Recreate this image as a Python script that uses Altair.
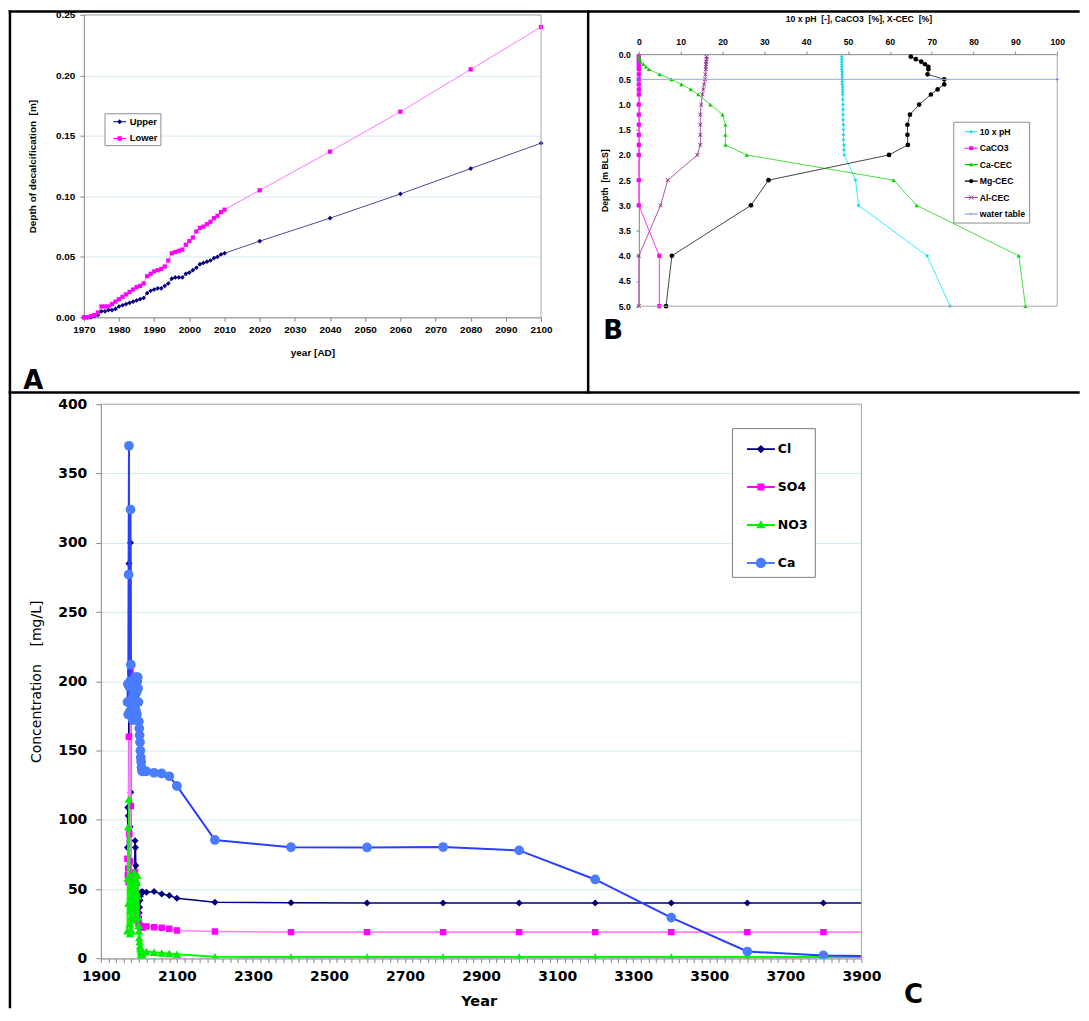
import altair as alt
import pandas as pd

# ======================= Panel A data =======================
A_YEARS = [1970, 1971, 1972, 1973, 1974, 1975, 1976, 1977, 1978, 1979,
           1980, 1981, 1982, 1983, 1984, 1985, 1986, 1987, 1988, 1989,
           1990, 1991, 1992, 1993, 1994, 1995, 1996, 1997, 1998, 1999,
           2000, 2001, 2002, 2003, 2004, 2005, 2006, 2007, 2008, 2009,
           2010, 2020, 2040, 2060, 2080, 2100]
A_UPPER = [0.000, 0.000, 0.000, 0.001, 0.002, 0.005, 0.005, 0.006, 0.006, 0.007,
           0.009, 0.010, 0.011, 0.012, 0.013, 0.014, 0.015, 0.016, 0.020, 0.022,
           0.023, 0.024, 0.024, 0.026, 0.028, 0.032, 0.033, 0.033, 0.033, 0.036,
           0.037, 0.039, 0.041, 0.044, 0.045, 0.046, 0.047, 0.049, 0.050, 0.052,
           0.053, 0.063, 0.082, 0.102, 0.123, 0.144]
A_LOWER = [0.000, 0.000, 0.001, 0.002, 0.004, 0.009, 0.009, 0.009, 0.011, 0.013,
           0.015, 0.017, 0.019, 0.021, 0.023, 0.025, 0.026, 0.028, 0.034, 0.036,
           0.038, 0.039, 0.040, 0.042, 0.047, 0.053, 0.054, 0.055, 0.056, 0.060,
           0.063, 0.066, 0.071, 0.074, 0.075, 0.077, 0.079, 0.082, 0.084, 0.087,
           0.089, 0.105, 0.137, 0.170, 0.205, 0.240]
A_SERIES = ["Upper", "Lower"]
A_X_TICKS = [1970, 1980, 1990, 2000, 2010, 2020, 2030, 2040, 2050, 2060, 2070, 2080, 2090, 2100]
A_Y_TICKS = [0.0, 0.05, 0.10, 0.15, 0.20, 0.25]

# ======================= Panel B data =======================
B_DEPTH = [0.05, 0.1, 0.15, 0.2, 0.25, 0.3, 0.4, 0.5, 0.6, 0.7, 0.8,
           1.0, 1.2, 1.4, 1.6, 1.8, 2.0, 2.5, 3.0, 4.0, 5.0]
B_PH_DEPTH = [0.05, 0.10, 0.15, 0.20, 0.25, 0.30, 0.35, 0.40, 0.45, 0.50, 0.55, 0.60,
              0.65, 0.70, 0.75, 0.80, 0.9, 1.0, 1.1, 1.2, 1.3, 1.4, 1.5, 1.6, 1.7,
              1.8, 1.9, 2.0, 2.5, 3.0, 4.0, 5.0]
B_PH10 = [48.5, 48.5, 48.5, 48.5, 48.5, 48.5, 48.6, 48.6, 48.6, 48.6, 48.6, 48.6,
          48.7, 48.7, 48.7, 48.7, 48.7, 48.8, 48.8, 48.8, 48.8, 48.9, 48.9, 48.9, 48.9,
          49.0, 49.0, 49.1, 51.8, 52.5, 68.9, 74.4]
B_CACO3 = [0.0, 0.0, 0.0, 0.0, 0.0, 0.0, 0.0, 0.0, 0.0, 0.0, 0.0,
           0.0, 0.0, 0.0, 0.0, 0.0, 0.0, 0.0, 0.0, 4.9, 4.9]
B_CA_CEC = [0.1, 0.2, 0.4, 1.1, 1.7, 2.4, 5.0, 7.8, 10.2, 12.4, 14.2,
            17.1, 20.0, 20.7, 20.7, 20.7, 25.8, 60.9, 66.4, 90.8, 92.4]
B_MG_CEC = [65.0, 66.2, 67.5, 68.4, 69.2, 69.2, 69.0, 73.0, 73.0, 71.4, 69.8,
            67.0, 64.8, 64.2, 64.2, 64.3, 59.8, 31.0, 26.8, 7.9, 6.5]
B_AL_CEC = [16.2, 16.2, 16.1, 16.1, 16.0, 16.0, 15.9, 15.8, 15.6, 15.4, 15.2,
            14.9, 14.7, 14.7, 14.7, 14.7, 14.0, 6.9, 5.2, 0.0, 0.0]
B_WT_X = [0, 100]
B_WT_DEPTH = [0.5, 0.5]
B_SERIES = ["10 x pH", "CaCO3", "Ca-CEC", "Mg-CEC", "Al-CEC", "water table"]
B_X_TICKS = [0, 10, 20, 30, 40, 50, 60, 70, 80, 90, 100]
B_Y_TICKS = [0.0, 0.5, 1.0, 1.5, 2.0, 2.5, 3.0, 3.5, 4.0, 4.5, 5.0]

# ======================= Panel C data =======================
C_YEARS = [1970, 1971, 1972, 1973, 1974, 1975, 1976, 1977, 1978, 1979,
           1980, 1981, 1982, 1983, 1984, 1985, 1986, 1987, 1988, 1989,
           1990, 1991, 1992, 1993, 1994, 1995, 1996, 1997, 1998, 1999,
           2000, 2001, 2002, 2003, 2004, 2005, 2006, 2007, 2008, 2009,
           2010, 2020, 2040, 2060, 2080, 2100, 2200, 2400, 2600, 2800,
           3000, 3200, 3400, 3600, 3800, 4000]
C_CL = [80, 109, 103, 60, 285, 110, 70, 95, 300, 120,
        50, 40, 35, 45, 30, 40, 50, 35, 45, 60,
        85, 80, 67, 55, 45, 38, 33, 30, 28, 27,
        30, 33, 37, 42, 45, 47, 47.5, 48, 48, 48,
        48, 47.8, 48.3, 46.5, 45.5, 43.5, 40.6, 40.2, 40.0, 40.0,
        40.0, 40.0, 40.0, 40.0, 40.0, 40.0]
C_SO4 = [72, 60, 65, 55, 160, 90, 60, 70, 207, 110,
         55, 45, 40, 50, 35, 40, 45, 38, 50, 55,
         62, 58, 50, 45, 40, 35, 32, 30, 28, 26,
         25, 24, 23.5, 23, 23, 22.8, 22.7, 22.6, 22.6, 22.5,
         22.5, 23.0, 22.6, 22.1, 21.4, 20.2, 19.5, 19.0, 19.0, 19.0,
         19.0, 19.0, 19.0, 19.0, 19.0, 19.0]
C_NO3 = [20, 58, 95, 40, 115, 60, 25, 18, 35, 50,
         30, 20, 45, 55, 40, 28, 38, 50, 62, 55,
         45, 35, 30, 40, 48, 55, 60, 45, 30, 24,
         20, 15, 12, 9, 7, 5, 3, 2, 3, 4,
         5, 5.0, 4.5, 4.0, 3.5, 3.0, 1.2, 1.0, 1.0, 1.0,
         1.0, 1.0, 1.0, 1.0, 1.0, 1.0]
C_CA = [185, 198, 176, 277, 370, 196, 178, 200, 324, 212,
        186, 176, 200, 185, 172, 190, 198, 180, 176, 196,
        203, 185, 200, 178, 192, 176, 200, 203, 195, 185,
        171, 166, 161, 156, 150, 145, 142, 138, 136, 135,
        135, 135, 134, 133.5, 131.5, 124.5, 85.5, 80.3, 80.1, 80.4,
        78.0, 57.0, 29.5, 5.0, 2.2, 1.5]
C_SERIES = ["Cl", "SO4", "NO3", "Ca"]
C_X_TICKS = list(range(1900, 3901, 20))   # tick marks every 20 years, labels every 200
C_Y_TICKS = [0, 50, 100, 150, 200, 250, 300, 350, 400]

# ======================= styling =======================
ARIAL = "Liberation Sans"
VERD = "DejaVu Sans"
AXGRAY = "#868686"
BOXGRAY = "#a8a8a8"
GRID = "#d3eaf2"
NB = "\u00a0"

# ---------------- tables ----------------
dfA = pd.DataFrame(
    [{"year": y, "depth": v, "sA": "Upper"} for y, v in zip(A_YEARS, A_UPPER)]
    + [{"year": y, "depth": v, "sA": "Lower"} for y, v in zip(A_YEARS, A_LOWER)]
)
b_rows = [{"val": v, "bdepth": d, "sB": "10 x pH"} for d, v in zip(B_PH_DEPTH, B_PH10)]
for name, vals in [("CaCO3", B_CACO3), ("Ca-CEC", B_CA_CEC),
                   ("Mg-CEC", B_MG_CEC), ("Al-CEC", B_AL_CEC)]:
    b_rows += [{"val": v, "bdepth": d, "sB": name} for d, v in zip(B_DEPTH, vals)]
b_rows += [{"val": v, "bdepth": d, "sB": "water table"} for d, v in zip(B_WT_DEPTH, B_WT_X)]
dfB = pd.DataFrame(b_rows)
c_rows = []
for name, vals in [("Cl", C_CL), ("SO4", C_SO4), ("NO3", C_NO3), ("Ca", C_CA)]:
    c_rows += [{"cyear": y, "conc": v, "sC": name} for y, v in zip(C_YEARS, vals)]
dfC = pd.DataFrame(c_rows)
one = pd.DataFrame({"k": [0]})


def letter(t, xv, yv):
    return alt.Chart(one).mark_text(text=t, font=VERD, fontSize=26, fontWeight="bold",
                                    align="center", baseline="alphabetic", color="black"
                                    ).encode(x=alt.value(xv), y=alt.value(yv))


def rule(color, width, x0, y0, x1=None, y1=None):
    enc = {"x": alt.value(x0), "y": alt.value(y0)}
    if x1 is not None:
        enc["x2"] = alt.value(x1)
    if y1 is not None:
        enc["y2"] = alt.value(y1)
    return alt.Chart(one).mark_rule(color=color, strokeWidth=width).encode(**enc)


def bar(x0, x1, y0, y1):
    # solid black frame band of the composite figure (exact extent, no stroke)
    return alt.Chart(one).mark_rect(color="black", strokeWidth=0).encode(
        x=alt.value(x0), x2=alt.value(x1), y=alt.value(y0), y2=alt.value(y1))


# ======================= Panel A (plot at view origin) =======================
WA, HA = 458, 303
xA = alt.X("year:Q", scale=alt.Scale(domain=[1970, 2100], range=[0, WA], nice=False, zero=False),
           axis=alt.Axis(values=A_X_TICKS, format="d", title="year [AD]", grid=False,
                         domainColor=AXGRAY, tickColor=AXGRAY, tickSize=4,
                         labelFont=ARIAL, labelFontSize=10, labelFontWeight="bold",
                         labelColor="black", labelPadding=3, labelFlush=False, labelOverlap=False,
                         titleFont=ARIAL, titleFontSize=10, titleFontWeight="bold",
                         titleColor="black", titleX=WA / 2, titleY=35, titleBaseline="middle"))
yA = alt.Y("depth:Q", scale=alt.Scale(domain=[0, 0.25], range=[HA, 0], nice=False),
           axis=alt.Axis(orient="left", values=A_Y_TICKS, format=".2f",
                         title="Depth of decalcification" + NB + " [m]",
                         grid=True, gridColor=GRID, domainColor=AXGRAY, tickColor=AXGRAY,
                         tickSize=4, labelFont=ARIAL, labelFontSize=10, labelFontWeight="bold",
                         labelColor="black", labelPadding=5, labelFlush=False, labelOverlap=False,
                         titleFont=ARIAL, titleFontSize=10, titleFontWeight="bold",
                         titleColor="black", titleX=-51.5, titleY=HA / 2, titleBaseline="middle"))
layersA = []
for name, lcol, mcol, shp, sz in [("Upper", "#4b4b9b", "#000080", "diamond", 22),
                                  ("Lower", "#ff77ff", "#ff00ff", "square", 18)]:
    base = alt.Chart(dfA).transform_filter(alt.datum.sA == name)
    layersA.append(base.mark_line(color=lcol, strokeWidth=1).encode(x=xA, y=yA))
    layersA.append(base.mark_point(shape=shp, filled=True, size=sz, color=mcol, opacity=1)
                   .encode(x=xA, y=yA))

LINE_A = "M-1,-0.08L1,-0.08L1,0.08L-1,0.08Z "
legA = alt.Legend(orient="none", legendX=20.7, legendY=98.5, title=None, padding=2,
                  rowPadding=5.8, symbolSize=169, symbolStrokeWidth=0, symbolOffset=6.7,
                  labelOffset=3.5, labelFont=ARIAL, labelFontSize=9.5, labelFontWeight="bold",
                  labelColor="black", strokeColor="#8c8c8c", fillColor="white")
legA_df = pd.DataFrame({"year": [1970, 1970], "depth": [-1, -1], "sA": A_SERIES})
layersA.append(
    alt.Chart(legA_df).mark_point(filled=True, clip=True, opacity=1).encode(
        x=xA, y=yA,
        color=alt.Color("sA:N", scale=alt.Scale(domain=A_SERIES, range=["#000080", "#ff00ff"]), legend=legA),
        shape=alt.Shape("sA:N", scale=alt.Scale(domain=A_SERIES, range=[
            LINE_A + "M0,-0.4L0.4,0L0,0.4L-0.4,0Z",
            LINE_A + "M-0.34,-0.34L0.34,-0.34L0.34,0.34L-0.34,0.34Z"]), legend=legA),
    )
)
# plot frame of A (top and right edges)
layersA += [rule(BOXGRAY, 1, 0, 0, x1=WA), rule(BOXGRAY, 1, WA, 0, y1=HA)]
# black frame of the composite figure (page coords -> relative to panel A plot origin)
OX, OY = 83.3, 12.7
layersA += [
    bar(8 - OX, 10.5 - OX, 8 - OY, 1008 - OY),          # left
    bar(8 - OX, 1081 - OX, 8 - OY, 10.5 - OY),          # top
    bar(587.3 - OX, 589.8 - OX, 8 - OY, 392.3 - OY),    # A | B
    bar(8 - OX, 1081 - OX, 389.8 - OY, 392.3 - OY),     # top row | C
]
layersA.append(letter("A", 32.7 - OX, 387 - OY))
panelA = alt.layer(*layersA)

# ======================= Panel B (offset inside the same view) =======================
BX0, BY0 = 556, 39.3
WBP, HBP = 419.2, 252.5
xB = alt.X("val:Q", scale=alt.Scale(domain=[0, 100], range=[BX0, BX0 + WBP], nice=False, zero=False),
           axis=alt.Axis(orient="top", offset=-BY0, values=B_X_TICKS, format="d",
                         title="10 x pH" + NB + " [-], CaCO3" + NB + " [%], X-CEC" + NB + " [%]",
                         grid=False,
                         domainColor=AXGRAY, tickColor=AXGRAY, tickSize=3,
                         labelFont=ARIAL, labelFontSize=8.7, labelFontWeight="bold",
                         labelColor="black", labelPadding=5, labelFlush=False, labelOverlap=False,
                         titleFont=ARIAL, titleFontSize=8.7, titleFontWeight="bold",
                         titleColor="black", titleX=BX0 + 220, titleY=-36, titleBaseline="middle"))
yB = alt.Y("bdepth:Q", scale=alt.Scale(domain=[0, 5], range=[BY0, BY0 + HBP], nice=False, zero=False),
           axis=alt.Axis(orient="left", offset=-BX0, values=B_Y_TICKS, format=".1f",
                         title="Depth" + NB + " [m BLS]", grid=False,
                         domainColor=AXGRAY, tickColor=AXGRAY, tickSize=3,
                         labelFont=ARIAL, labelFontSize=8.7, labelFontWeight="bold",
                         labelColor="black", labelPadding=5.5, labelFlush=False, labelOverlap=False,
                         titleFont=ARIAL, titleFontSize=8.7, titleFontWeight="bold",
                         titleColor="black", titleX=-34.3, titleY=BY0 + HBP / 2,
                         titleBaseline="middle"))
XSHAPE = "M-0.8,-1L0,-0.2L0.8,-1L1,-0.8L0.2,0L1,0.8L0.8,1L0,0.2L-0.8,1L-1,0.8L-0.2,0L-1,-0.8Z"
B_STYLE = [("10 x pH", "#2ef0ff", "#14d8f0", "diamond", 14),
           ("CaCO3", "#ff33ff", "#ff00ff", "square", 18),
           ("Ca-CEC", "#44e044", "#00d000", "triangle-up", 18),
           ("Mg-CEC", "#454545", "#000000", "circle", 22),
           ("Al-CEC", "#a857a8", "#800080", XSHAPE, 18),
           ("water table", "#8fa8ff", "#4a6cff", "diamond", 10)]
layersB = []
for name, lcol, mcol, shp, sz in B_STYLE:
    base = alt.Chart(dfB).transform_filter(alt.datum.sB == name)
    layersB.append(base.mark_line(color=lcol, strokeWidth=1)
                   .encode(x=xB, y=yB, order=alt.Order("bdepth:Q")))
    layersB.append(base.mark_point(shape=shp, filled=True, size=sz, color=mcol, opacity=1)
                   .encode(x=xB, y=yB))
LINE_B = "M-1,-0.08L1,-0.08L1,0.08L-1,0.08Z "
legB = alt.Legend(orient="none", legendX=315 + BX0, legendY=69.7 + BY0 - 2, title=None, padding=3.5,
                  rowPadding=4.5, symbolSize=169, symbolStrokeWidth=0, symbolOffset=8,
                  labelOffset=2, labelFont=ARIAL, labelFontSize=8.7, labelFontWeight="bold",
                  labelColor="black", strokeColor="#8c8c8c", fillColor="white")
legB_df = pd.DataFrame({"val": [0] * 6, "bdepth": [10] * 6, "sB": B_SERIES})
layersB.append(
    alt.Chart(legB_df).mark_point(filled=True, clip=True, opacity=1).encode(
        x=xB, y=yB,
        color=alt.Color("sB:N", scale=alt.Scale(domain=B_SERIES, range=[
            "#14d8f0", "#ff00ff", "#00d000", "#000000", "#a040a0", "#6f8cff"]), legend=legB),
        shape=alt.Shape("sB:N", scale=alt.Scale(domain=B_SERIES, range=[
            LINE_B + "M0,-0.3L0.3,0L0,0.3L-0.3,0Z",
            LINE_B + "M-0.3,-0.3L0.3,-0.3L0.3,0.3L-0.3,0.3Z",
            LINE_B + "M0,-0.38L0.34,0.26L-0.34,0.26Z",
            LINE_B + "M-0.32,0A0.32,0.32 0 1,1 0.32,0A0.32,0.32 0 1,1 -0.32,0Z",
            LINE_B + "M-0.3,-0.38L0,-0.08L0.3,-0.38L0.38,-0.3L0.08,0L0.38,0.3L0.3,0.38L0,0.08L-0.3,0.38L-0.38,0.3L-0.08,0L-0.38,-0.3Z",
            LINE_B + "M0,-0.2L0.2,0L0,0.2L-0.2,0Z"]), legend=legB),
    )
)
layersB += [rule(BOXGRAY, 1, BX0 + WBP, BY0, y1=BY0 + HBP),
            rule(BOXGRAY, 1, BX0, BY0 + HBP, x1=BX0 + WBP)]
layersB.append(letter("B", 613.5 - 639.3 + BX0, 337 - 52 + BY0))
panelB = alt.layer(*layersB)

topAB = alt.layer(panelA, panelB).resolve_scale(
    x="independent", y="independent", color="independent", shape="independent"
).properties(width=BX0 + WBP, height=HA, view=alt.ViewBackground(stroke="transparent"))

# ======================= Panel C (plot offset 17 px inside its view) =======================
CX0 = 17
WC, HC = 762, 555.3
xC = alt.X("cyear:Q", scale=alt.Scale(domain=[1900, 3900], range=[CX0, CX0 + WC], nice=False, zero=False),
           axis=alt.Axis(values=C_X_TICKS, format="d",
                         labelExpr="datum.value % 200 == 100 ? datum.label : ''",
                         title="Year", grid=False, domainColor=AXGRAY, tickColor=AXGRAY,
                         tickSize=4, labelFont=VERD, labelFontSize=14, labelFontWeight="bold",
                         labelColor="black", labelPadding=7, labelFlush=False, labelOverlap=False,
                         titleFont=VERD, titleFontSize=14.5, titleFontWeight="bold",
                         titleColor="black", titleX=CX0 + WC / 2 - 2.5, titleY=43,
                         titleBaseline="middle"))
yC = alt.Y("conc:Q", scale=alt.Scale(domain=[0, 400], range=[HC, 0], nice=False),
           axis=alt.Axis(offset=-CX0, values=C_Y_TICKS, format="d",
                         title="Concentration" + NB * 3 + " [mg/L]",
                         grid=True, gridColor=GRID, domainColor=AXGRAY, tickColor=AXGRAY,
                         tickSize=5, labelFont=VERD, labelFontSize=14, labelFontWeight="bold",
                         labelColor="black", labelPadding=9, labelFlush=False, labelOverlap=False,
                         titleFont=VERD, titleFontSize=14, titleFontWeight="normal",
                         titleColor="black", titleX=-64.5, titleY=HC / 2, titleBaseline="middle"))
C_STYLE = [("Cl", "#000080", "#000080", "diamond", 50, 1.6),
           ("SO4", "#ff80ff", "#ff00ff", "square", 42, 1.6),
           ("NO3", "#00ff00", "#00ee00", "triangle-up", 75, 2.0),
           ("Ca", "#2b3dff", "#4a7cff", "circle", 95, 2.0)]
layersC = []
for name, lcol, mcol, shp, sz, sw in C_STYLE:
    base = alt.Chart(dfC).transform_filter(alt.datum.sC == name)
    layersC.append(base.mark_line(color=lcol, strokeWidth=sw, clip=True).encode(x=xC, y=yC))
    layersC.append(base.mark_point(shape=shp, filled=True, size=sz, color=mcol, opacity=1,
                                   clip=True).encode(x=xC, y=yC))
LINE_C = "M-1,-0.07L1,-0.07L1,0.07L-1,0.07Z "
legC = alt.Legend(orient="none", legendX=632.3 + CX0, legendY=24, title=None, padding=7,
                  rowPadding=17, symbolSize=784, symbolStrokeWidth=0, symbolOffset=8,
                  labelOffset=3, labelFont=VERD, labelFontSize=12.5, labelFontWeight="bold",
                  labelColor="black", strokeColor="#7a7a7a", fillColor="white")
legC_df = pd.DataFrame({"cyear": [2000] * 4, "conc": [-100] * 4, "sC": C_SERIES})
layersC.append(
    alt.Chart(legC_df).mark_point(filled=True, clip=True, opacity=1).encode(
        x=xC, y=yC,
        color=alt.Color("sC:N", scale=alt.Scale(domain=C_SERIES, range=[
            "#000080", "#ff00ff", "#00ee00", "#4a7cff"]), legend=legC),
        shape=alt.Shape("sC:N", scale=alt.Scale(domain=C_SERIES, range=[
            LINE_C + "M0,-0.3L0.3,0L0,0.3L-0.3,0Z",
            LINE_C + "M-0.25,-0.25L0.25,-0.25L0.25,0.25L-0.25,0.25Z",
            LINE_C + "M0,-0.34L0.34,0.24L-0.34,0.24Z",
            LINE_C + "M-0.37,0A0.37,0.37 0 1,1 0.37,0A0.37,0.37 0 1,1 -0.37,0Z"]), legend=legC),
    )
)
layersC += [rule(BOXGRAY, 1, CX0, 0, x1=CX0 + WC), rule(BOXGRAY, 1, CX0 + WC, 0, y1=HC)]
layersC.append(letter("C", 914.5 - 83.3, 1003 - 402.7))
panelC = alt.layer(*layersC).properties(width=CX0 + WC, height=HC,
                                        view=alt.ViewBackground(stroke="transparent"))

# ======================= layout =======================
chart = alt.vconcat(topAB, panelC, spacing=87, bounds="flush"
                    ).resolve_scale(color="independent", shape="independent"
                    ).properties(padding=0, background="white")

chart.save("out.html", embed_options={"renderer": "svg", "actions": False})
